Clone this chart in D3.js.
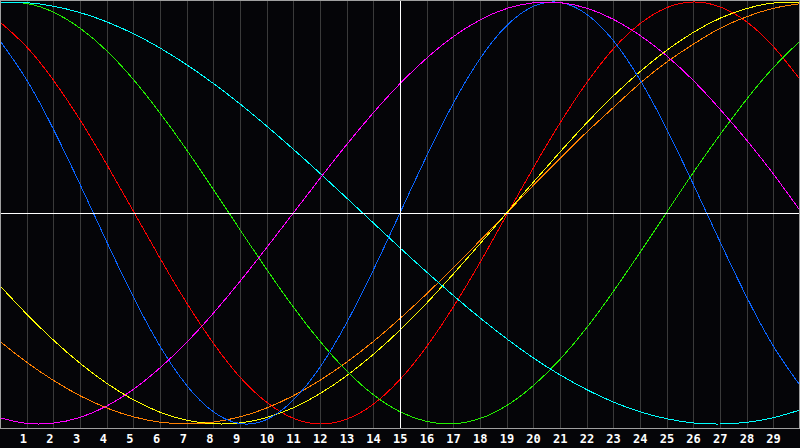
<!DOCTYPE html>
<html>
<head>
<meta charset="utf-8">
<script src="https://cdn.jsdelivr.net/npm/d3@7"></script>
<style>
  body { margin: 0; background: #050508; }
  #chart { width: 800px; height: 448px; }
</style>
</head>
<body>
<div id="chart"></div>
<script>
// x positions 0..30, tick labels 1..29
const xs = d3.range(0, 31);
const tickLabels = d3.range(1, 30);

// values at every whole x (-1 = bottom, 1 = top)
const redVals     = [0.905, 0.787, 0.630, 0.442, 0.231, 0.009, -0.214, -0.426, -0.617, -0.778, -0.897, -0.973, -1.000, -0.977, -0.906, -0.789, -0.633, -0.445, -0.235, -0.009, 0.214, 0.426, 0.617, 0.778, 0.897, 0.973, 1.000, 0.977, 0.906, 0.789, 0.633];
const orangeVals  = [-0.609, -0.707, -0.793, -0.866, -0.924, -0.966, -0.991, -1.000, -0.991, -0.966, -0.924, -0.866, -0.793, -0.707, -0.609, -0.500, -0.383, -0.259, -0.131, 0.000, 0.131, 0.259, 0.383, 0.500, 0.615, 0.715, 0.800, 0.875, 0.930, 0.970, 0.992];
const yellowVals  = [-0.345, -0.479, -0.602, -0.712, -0.807, -0.885, -0.944, -0.982, -0.999, -0.995, -0.969, -0.923, -0.856, -0.771, -0.670, -0.555, -0.427, -0.289, -0.146, 0.000, 0.146, 0.289, 0.427, 0.555, 0.670, 0.771, 0.856, 0.923, 0.969, 0.995, 0.999];
const greenVals   = [0.998, 0.993, 0.952, 0.876, 0.769, 0.633, 0.474, 0.299, 0.112, -0.079, -0.267, -0.446, -0.608, -0.748, -0.861, -0.942, -0.988, -0.999, -0.974, -0.913, -0.818, -0.694, -0.544, -0.372, -0.187, 0.003, 0.192, 0.371, 0.539, 0.689, 0.815];
const cyanVals    = [0.999, 0.997, 0.980, 0.950, 0.906, 0.850, 0.782, 0.703, 0.614, 0.517, 0.412, 0.302, 0.188, 0.071, -0.047, -0.165, -0.280, -0.391, -0.497, -0.596, -0.687, -0.767, -0.837, -0.896, -0.942, -0.975, -0.995, -1.000, -0.992, -0.970, -0.934];
const blueVals    = [0.816, 0.631, 0.398, 0.136, -0.136, -0.398, -0.631, -0.817, -0.942, -0.998, -0.979, -0.886, -0.731, -0.520, -0.270, 0.000, 0.270, 0.520, 0.731, 0.888, 0.979, 0.998, 0.942, 0.817, 0.631, 0.398, 0.136, -0.136, -0.398, -0.631, -0.817];
const magentaVals = [-0.971, -0.997, -0.996, -0.969, -0.915, -0.836, -0.734, -0.613, -0.475, -0.324, -0.164, 0.000, 0.164, 0.324, 0.475, 0.613, 0.734, 0.836, 0.915, 0.969, 0.996, 0.997, 0.971, 0.918, 0.842, 0.745, 0.628, 0.492, 0.345, 0.185, 0.012];

const seriesNames  = ['red', 'orange', 'yellow', 'green', 'cyan', 'blue', 'magenta'];
const seriesValues = [redVals, orangeVals, yellowVals, greenVals, cyanVals, blueVals, magentaVals];
const seriesColors = ['#ff0000', '#ff8000', '#ffff00', '#22ee00', '#00ffff', '#0a64ff', '#ff00ff'];

const width = 800;
const height = 448;
const plotBottom = 428;

const svg = d3.select('#chart').append('svg')
  .attr('width', width)
  .attr('height', height)
  .style('display', 'block');

svg.append('rect')
  .attr('width', width)
  .attr('height', height)
  .attr('fill', '#050508');

const x = d3.scaleLinear().domain([0, 30]).range([0, width]);
const y = d3.scaleLinear().domain([-1, 1]).range([424, 2]);

// vertical grid
svg.append('g')
  .selectAll('line')
  .data(tickLabels)
  .join('line')
  .attr('x1', d => Math.round(x(d)) + 0.5)
  .attr('x2', d => Math.round(x(d)) + 0.5)
  .attr('y1', 0)
  .attr('y2', plotBottom)
  .attr('stroke', '#3a3a3a')
  .attr('stroke-width', 1)
  .attr('shape-rendering', 'crispEdges');

//the curves
const line = d3.line()
  .x((d, i) => x(xs[i]))
  .y(d => y(d))
  .curve(d3.curveNatural);

svg.append('g')
  .selectAll('path')
  .data(seriesValues)
  .join('path')
  .attr('class', (d, i) => seriesNames[i])
  .attr('d', d => line(d))
  .attr('fill', 'none')
  .attr('stroke', (d, i) => seriesColors[i])
  .attr('stroke-width', 1)
  .attr('shape-rendering', 'crispEdges');

// white cross lines
const midY = Math.round(y(0)) + 0.5;
svg.append('line')
  .attr('x1', 0).attr('x2', width)
  .attr('y1', midY).attr('y2', midY)
  .attr('stroke', '#ffffff')
  .attr('shape-rendering', 'crispEdges');
svg.append('line')
  .attr('x1', Math.round(x(15)) + 0.5).attr('x2', Math.round(x(15)) + 0.5)
  .attr('y1', 0).attr('y2', plotBottom)
  .attr('stroke', '#ffffff')
  .attr('shape-rendering', 'crispEdges');

// frame
svg.append('rect')
  .attr('x', 0.5)
  .attr('y', 0.5)
  .attr('width', width - 1)
  .attr('height', plotBottom - 0.5)
  .attr('fill', 'none')
  .attr('stroke', '#a0a0a0')
  .attr('shape-rendering', 'crispEdges');

// tick labels
svg.append('g')
  .selectAll('text')
  .data(tickLabels)
  .join('text')
  .attr('x', d => x(d) - 7)
  .attr('y', 443)
  .style('font-family', '"DejaVu Sans Mono", monospace')
  .style('font-size', '12px')
  .style('font-weight', 'bold')
  .style('fill', '#ffffff')
  .style('text-anchor', 'start')
  .text(d => d);
</script>
</body>
</html>
